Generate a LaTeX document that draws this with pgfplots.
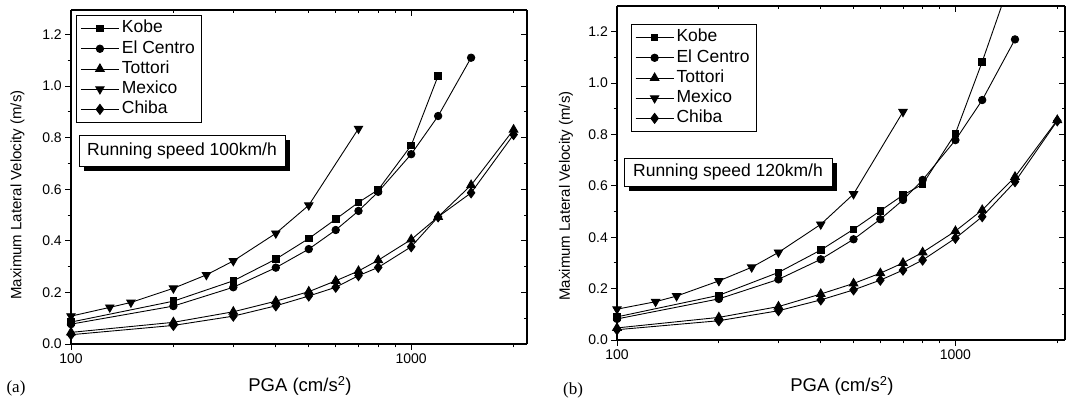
\documentclass[border=0pt]{standalone}
\usepackage{pgfplots}
\pgfplotsset{compat=1.18}
\usepackage{fontspec}
\setmainfont{Liberation Sans}
\newfontfamily\seriffont{Liberation Serif}

\pgfplotsset{
  panel/.style={
    scale only axis,
    xmin=100, ymin=0,
    xtick={100,1000}, xticklabels={100,1000},
    minor xtick={200,300,400,500,600,700,800,900,2000},
    ytick={0,0.2,0.4,0.6,0.8,1.0,1.2},
    minor ytick={0.1,0.3,0.5,0.7,0.9,1.1},
    yticklabel style={/pgf/number format/.cd, fixed, fixed zerofill, precision=1},
    /pgf/number format/assume math mode=true,
    tick label style={font=\fontsize{14}{16}\selectfont, black},
    major tick length=5.7pt, minor tick length=3.3pt,
    tick style={line width=0.9pt, black},
    axis line style={line width=1.1pt, black, -},
    every outer x axis line/.append style={-},
    every outer y axis line/.append style={-},
  },
  mainside/.style={
    panel, axis x line*=bottom, axis y line*=left, tick align=outside,
    legend cell align=left,
    legend image code/.code={
      \draw[mark=none] (0pt,0pt) -- (38pt,0pt);
      \draw plot coordinates {(19pt,0pt)};
    },
    legend style={
      anchor=north west, draw=black, line width=0.9pt, fill=white,
      font=\fontsize{17.5}{20}\selectfont,
      inner xsep=4pt, inner ysep=3pt, row sep=0pt,
      nodes={font=\fontsize{17.5}{20}\selectfont, inner ysep=1.5pt, inner xsep=2.5pt,
             text height=13pt, text depth=4.2pt},
    },
  },
  frameside/.style={
    panel, axis x line*=top, axis y line*=right, tick align=inside,
    xticklabels={}, yticklabels={},
  },
  series/.style={black, line width=0.9pt, mark options={solid, fill=black}},
  kobe/.style={series, mark=square*, mark size=3.3pt},
  elcentro/.style={series, mark=*, mark size=3.7pt},
  tottori/.style={series, mark=triangle*, mark size=5pt},
  mexico/.style={series, mark=triangle*, mark size=4.8pt, mark options={rotate=180}},
  chiba/.style={series, mark=diamond*, mark size=5pt},
}

\begin{document}
\begin{tikzpicture}[x=1pt,y=1pt]
\useasboundingbox (0,0) rectangle (1066,-403);

% ---------- (a) running speed 100 km/h ----------
\begin{axis}[xmode=log, mainside, at={(71pt,-344pt)}, anchor=south west,
  width=456pt, height=334pt, xmax=2190, ymax=1.295,
  legend style={at={(0.011,0.985)}}]
\addplot[kobe] coordinates {(100,0.085)(200,0.166)(300,0.245)(400,0.329)(500,0.409)(600,0.484)(700,0.549)(800,0.598)(1000,0.770)(1200,1.040)};
\addlegendentry{Kobe}
\addplot[elcentro] coordinates {(100,0.077)(200,0.147)(300,0.220)(400,0.296)(500,0.368)(600,0.442)(700,0.516)(800,0.590)(1000,0.736)(1200,0.884)(1500,1.110)};
\addlegendentry{El Centro}
\addplot[tottori] coordinates {(100,0.045)(200,0.084)(300,0.125)(400,0.166)(500,0.203)(600,0.245)(700,0.283)(800,0.325)(1000,0.405)(1200,0.493)(1500,0.616)(2000,0.831)};
\addlegendentry{Tottori}
\addplot[mexico] coordinates {(100,0.108)(130,0.142)(150,0.161)(200,0.216)(250,0.268)(300,0.322)(400,0.429)(500,0.538)(700,0.835)};
\addlegendentry{Mexico}
\addplot[chiba] coordinates {(100,0.036)(200,0.072)(300,0.108)(400,0.148)(500,0.186)(600,0.220)(700,0.265)(800,0.297)(1000,0.377)(1200,0.493)(1500,0.586)(2000,0.812)};
\addlegendentry{Chiba}
\end{axis}
\begin{axis}[xmode=log, frameside, at={(71pt,-344pt)}, anchor=south west,
  width=456pt, height=334pt, xmax=2190, ymax=1.295]
\addplot[draw=none] coordinates {(100,0)(2000,1)};
\end{axis}

% ---------- (b) running speed 120 km/h ----------
\begin{axis}[xmode=log, mainside, at={(617pt,-340pt)}, anchor=south west,
  width=448pt, height=334pt, xmax=2108, ymax=1.30,
  legend style={at={(0.0306,0.946)}}]
\addplot[kobe, mark indices={1,2,3,4,5,6,7,8,9,10}] coordinates {(100,0.090)(200,0.174)(300,0.263)(400,0.350)(500,0.431)(600,0.503)(700,0.564)(800,0.606)(1000,0.804)(1200,1.083)(1500,1.45)};
\addlegendentry{Kobe}
\addplot[elcentro] coordinates {(100,0.082)(200,0.160)(300,0.236)(400,0.314)(500,0.392)(600,0.470)(700,0.545)(800,0.623)(1000,0.778)(1200,0.934)(1500,1.170)};
\addlegendentry{El Centro}
\addplot[tottori] coordinates {(100,0.047)(200,0.088)(300,0.130)(400,0.179)(500,0.220)(600,0.260)(700,0.300)(800,0.341)(1000,0.424)(1200,0.506)(1500,0.635)(2000,0.856)};
\addlegendentry{Tottori}
\addplot[mexico] coordinates {(100,0.120)(130,0.149)(150,0.171)(200,0.230)(250,0.283)(300,0.341)(400,0.450)(500,0.568)(700,0.888)};
\addlegendentry{Mexico}
\addplot[chiba] coordinates {(100,0.040)(200,0.075)(300,0.114)(400,0.156)(500,0.195)(600,0.233)(700,0.272)(800,0.311)(1000,0.396)(1200,0.480)(1500,0.616)(2000,0.853)};
\addlegendentry{Chiba}
\end{axis}
\begin{axis}[xmode=log, frameside, at={(617pt,-340pt)}, anchor=south west,
  width=448pt, height=334pt, xmax=2108, ymax=1.30]
\addplot[draw=none] coordinates {(100,0)(2000,1)};
\end{axis}

% ---------- annotation boxes with drop shadow ----------
\fill[black] (84,-140) rectangle (290,-171);
\draw[line width=0.9pt, fill=white] (79,-135) rectangle (285,-166);
\node[font=\fontsize{17.5}{20}\selectfont] at (182,-150.5) {Running speed 100km/h};

\fill[black] (629,-163) rectangle (837,-191);
\draw[line width=0.9pt, fill=white] (624,-158) rectangle (832,-186);
\node[font=\fontsize{17.5}{20}\selectfont] at (728,-172) {Running speed 120km/h};

% ---------- axis titles ----------
\node[rotate=90, font=\fontsize{15}{18}\selectfont] at (17.5,-195) {Maximum Lateral Velocity (m/s)};
\node[rotate=90, font=\fontsize{15}{18}\selectfont] at (566,-196) {Maximum Lateral Velocity (m/s)};
\node[font=\fontsize{18.5}{22}\selectfont] at (300,-386) {PGA (cm/s\textsuperscript{2})};
\node[font=\fontsize{18.5}{22}\selectfont] at (842,-386) {PGA (cm/s\textsuperscript{2})};

% ---------- panel tags ----------
\node[font=\seriffont\fontsize{17}{20}\selectfont] at (16,-388) {(a)};
\node[font=\seriffont\fontsize{17}{20}\selectfont] at (573,-390) {(b)};
\end{tikzpicture}
\end{document}
